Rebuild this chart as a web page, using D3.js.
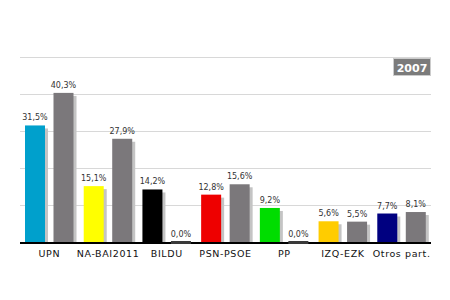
<!DOCTYPE html>
<html>
<head>
<meta charset="utf-8">
<script src="https://cdn.jsdelivr.net/npm/d3@7"></script>
<style>
  body { margin: 0; background: #fff; }
  text { font-family: "DejaVu Sans", Verdana, sans-serif; }
</style>
</head>
<body>
<svg id="chart" width="450" height="300"></svg>
<script>
// Data
const parties = ["UPN", "NA-BAI2011", "BILDU", "PSN-PSOE", "PP", "IZQ-EZK", "Otros part."];
const values2011 = [31.5, 15.1, 14.2, 12.8, 9.2, 5.6, 7.7];
const values2007 = [40.3, 27.9, 0.0, 15.6, 0.0, 5.5, 8.1];
const partyColors = ["#00a0cc", "#ffff00", "#000000", "#ee0000", "#00dd00", "#ffcc00", "#000080"];
const yTicks = [0, 10, 20, 30, 40, 50];
const yearLabel = "2007";

const svg = d3.select("#chart");
const plotLeft = 20, plotRight = 431, plotTop = 57, plotBottom = 242;
const barW = 20;

const x = d3.scaleBand().domain(parties).range([plotLeft, plotRight]);
const y = d3.scaleLinear().domain([0, 50]).range([plotBottom, plotTop]);

const fmt = v => d3.format(".1f")(v).replace(".", ",") + "%";

// Gridlines
svg.append("g").selectAll("line")
    .data(yTicks.slice(1))
    .enter().append("line")
    .attr("x1", plotLeft).attr("x2", plotRight)
    .attr("y1", d => y(d) + 0.5).attr("y2", d => y(d) + 0.5)
    .attr("stroke", "#d8d8d8");

// Year badge
const badge = svg.append("g");
badge.append("rect")
    .attr("x", 393.5).attr("y", 58.5).attr("width", 37).attr("height", 17)
    .attr("fill", "#7b7b7b").attr("stroke", "#cccccc");
badge.append("text")
    .attr("x", 412).attr("y", 71.5)
    .attr("text-anchor", "middle")
    .attr("font-size", 11).attr("font-weight", "bold")
    .attr("fill", "#fff")
    .text(yearLabel);

// Bars: one for 2011 (party colour), one for 2007 (grey)
const bars = [];
parties.forEach((p, i) => {
    bars.push({ party: p, value: values2011[i], color: partyColors[i], offset: 5 });
    bars.push({ party: p, value: values2007[i], color: "#7b787b", offset: 33.5 });
});

const g = svg.append("g");

// shadows
g.selectAll("rect.shadow")
    .data(bars.filter(d => d.value > 0))
    .enter().append("rect")
    .attr("class", "shadow")
    .attr("x", d => x(d.party) + d.offset + 3)
    .attr("y", d => y(d.value) + 3)
    .attr("width", barW)
    .attr("height", d => plotBottom - y(d.value) - 3)
    .attr("fill", "#c4c4c4");

g.selectAll("rect.bar")
    .data(bars.filter(d => d.value > 0))
    .enter().append("rect")
    .attr("class", "bar")
    .attr("x", d => x(d.party) + d.offset)
    .attr("y", d => y(d.value))
    .attr("width", barW)
    .attr("height", d => plotBottom - y(d.value))
    .attr("fill", d => d.color);

// Baseline
svg.append("rect")
    .attr("x", plotLeft).attr("y", plotBottom).attr("width", plotRight - plotLeft).attr("height", 2)
    .attr("fill", "#000");

// zero bars sit on the baseline in dark grey
svg.append("g").selectAll("rect")
    .data(bars.filter(d => d.value === 0))
    .enter().append("rect")
    .attr("x", d => x(d.party) + d.offset)
    .attr("y", plotBottom - 1)
    .attr("width", barW)
    .attr("height", 3)
    .attr("fill", "#3a3a3a");

// Value labels
svg.append("g").selectAll("text")
    .data(bars)
    .enter().append("text")
    .attr("x", d => x(d.party) + d.offset + barW / 2)
    .attr("y", d => y(d.value) - 5)
    .attr("text-anchor", "middle")
    .attr("font-size", 8)
    .attr("fill", "#333")
    .text(d => fmt(d.value));

// Category labels
svg.append("g").selectAll("text")
    .data(parties)
    .enter().append("text")
    .attr("x", d => x(d) + x.bandwidth() / 2)
    .attr("y", 257)
    .attr("text-anchor", "middle")
    .attr("font-size", 9.5)
    .attr("letter-spacing", 0.6)
    .attr("fill", "#111")
    .text(d => d);
</script>
</body>
</html>
